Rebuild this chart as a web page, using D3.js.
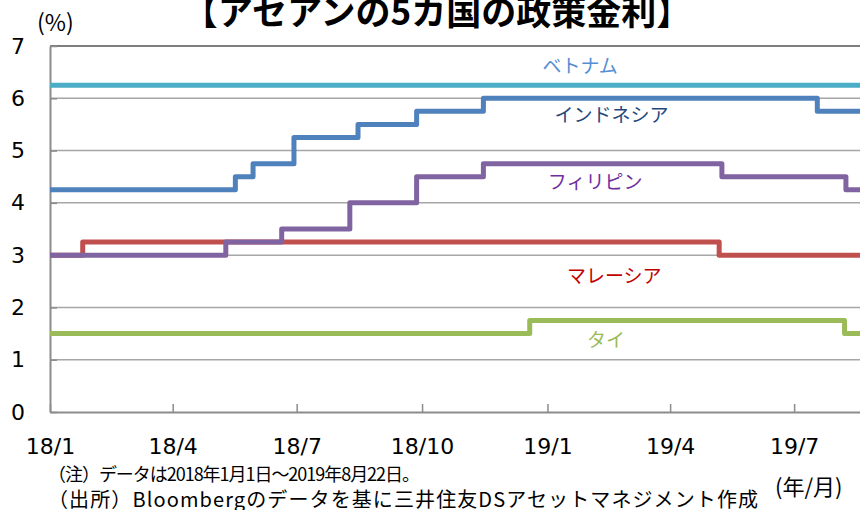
<!DOCTYPE html>
<html>
<head>
<meta charset="utf-8">
<script src="https://cdn.jsdelivr.net/npm/d3@7"></script>
<style>
  body { margin: 0; background: #fff; }
  svg { display: block; }
  text { font-family: "Noto Sans CJK JP", "DejaVu Sans", sans-serif; }
</style>
</head>
<body>
<script>
// change points for each policy rate (date, %), held until the next one
var indonesia = [['2018-01-01', 4.25], ['2018-05-17', 4.5], ['2018-05-30', 4.75], ['2018-06-29', 5.25],
  ['2018-08-15', 5.5], ['2018-09-27', 5.75], ['2018-11-15', 6.0], ['2019-07-18', 5.75]];
var malaysia = [['2018-01-01', 3.0], ['2018-01-25', 3.25], ['2019-05-07', 3.0]];
var philippines = [['2018-01-01', 3.0], ['2018-05-10', 3.25], ['2018-06-20', 3.5], ['2018-08-09', 4.0],
  ['2018-09-27', 4.5], ['2018-11-15', 4.75], ['2019-05-09', 4.5], ['2019-08-08', 4.25]];
var thailand = [['2018-01-01', 1.5], ['2018-12-19', 1.75], ['2019-08-07', 1.5]];
var vietnam = [['2018-01-01', 6.25]];

var seriesNames = ['インドネシア', 'マレーシア', 'フィリピン', 'タイ', 'ベトナム'];
var lineColors = ['#4f81bd', '#c0504d', '#8064a2', '#9bbb59', '#4bacc6'];
var labelColors = ['#1f497d', '#c00000', '#7030a0', '#9bbb59', '#558ed5'];

var startDate = '2018-01-01';
var endDate = '2019-08-22';
var xTicks = ['2018-01-01', '2018-04-01', '2018-07-01', '2018-10-01', '2019-01-01', '2019-04-01', '2019-07-01'];
var xTickLabels = ['18/1', '18/4', '18/7', '18/10', '19/1', '19/4', '19/7'];
var yTicks = [0, 1, 2, 3, 4, 5, 6, 7];

var title = '【アセアンの5カ国の政策金利】';
var noteLines = ['（注）データは2018年1月1日～2019年8月22日。',
  '（出所）Bloombergのデータを基に三井住友DSアセットマネジメント作成'];

var width = 860;
var height = 510;
var plotLeft = 50;
var plotTop = 46;
var plotBottom = 412;

var parseDate = d3.timeParse('%Y-%m-%d');

var svg = d3.select('body').append('svg')
  .attr('width', width)
  .attr('height', height);

var x = d3.scaleTime()
  .domain([parseDate(startDate), parseDate(endDate)])
  .range([plotLeft, 865]);

var y = d3.scaleLinear()
  .domain([0, 7])
  .range([plotBottom, plotTop]);

// gridlines
svg.append('g')
  .selectAll('line')
  .data(yTicks.filter(function(d) { return d > 0; }))
  .enter().append('line')
  .attr('x1', plotLeft)
  .attr('x2', width)
  .attr('y1', function(d) { return y(d); })
  .attr('y2', function(d) { return y(d); })
  .style('stroke', function(d) { return d === 7 ? '#7f7f7f' : '#a6a6a6'; })
  .style('stroke-width', function(d) { return d === 7 ? 2 : 1.5; });

// y axis
var yAxis = svg.append('g')
  .attr('transform', 'translate(' + plotLeft + ',0)')
  .call(d3.axisLeft(y).tickValues(yTicks).tickFormat(d3.format('d'))
    .tickSizeInner(-7).tickSizeOuter(0).tickPadding(25));
yAxis.select('.domain').style('stroke', '#8c8c8c').style('stroke-width', 2);
yAxis.selectAll('.tick line').style('stroke', '#8c8c8c').style('stroke-width', 1.5);
yAxis.selectAll('.tick text')
  .style('font-family', '"DejaVu Sans", sans-serif')
  .style('font-size', '22px')
  .style('fill', '#000');

// x axis
var xAxis = svg.append('g')
  .attr('transform', 'translate(0,' + plotBottom + ')')
  .call(d3.axisBottom(x)
    .tickValues(xTicks.map(parseDate))
    .tickFormat(function(d, i) { return xTickLabels[i]; })
    .tickSizeInner(-8).tickSizeOuter(0).tickPadding(26));
xAxis.select('.domain').style('stroke', '#8c8c8c').style('stroke-width', 2);
xAxis.selectAll('.tick line').style('stroke', '#8c8c8c').style('stroke-width', 1.5);
xAxis.selectAll('.tick text')
  .style('font-family', '"DejaVu Sans", sans-serif')
  .style('font-size', '22px')
  .style('fill', '#000');

// lines
var allSeries = [indonesia, malaysia, philippines, thailand, vietnam];
var line = d3.line()
  .x(function(d) { return x(d.date); })
  .y(function(d) { return y(d.value); })
  .curve(d3.curveStepAfter);

var drawOrder = [4, 0, 1, 2, 3];
drawOrder.forEach(function(i) {
  var points = allSeries[i].map(function(p) { return {date: parseDate(p[0]), value: p[1]}; });
  points.push({date: parseDate(endDate), value: points[points.length - 1].value});
  svg.append('path')
    .datum(points)
    .attr('d', line)
    .style('fill', 'none')
    .style('stroke', lineColors[i])
    .style('stroke-width', 5)
    .style('stroke-linejoin', 'round');
});

// series labels
var labelPos = [
  {date: '2019-02-17', value: 5.55},
  {date: '2019-02-19', value: 2.47},
  {date: '2019-02-05', value: 4.27},
  {date: '2019-02-13', value: 1.25},
  {date: '2019-01-25', value: 6.48}
];
labelPos.forEach(function(p, i) {
  svg.append('text')
    .attr('x', x(parseDate(p.date)))
    .attr('y', y(p.value))
    .attr('text-anchor', 'middle')
    .style('font-size', '19px')
    .style('fill', labelColors[i])
    .text(seriesNames[i]);
});

// title and units
svg.append('text')
  .attr('x', 437)
  .attr('y', 25)
  .attr('text-anchor', 'middle')
  .style('font-size', '35px')
  .style('font-weight', 'bold')
  .text(title);

svg.append('text')
  .attr('x', 37)
  .attr('y', 31)
  .style('font-size', '23px')
  .text('(%)');

svg.append('text')
  .attr('x', 775)
  .attr('y', 495)
  .style('font-size', '22px')
  .text('(年/月)');

svg.selectAll('.note')
  .data(noteLines)
  .enter().append('text')
  .attr('class', 'note')
  .attr('x', 48)
  .attr('y', function(d, i) { return 481 + i * 26; })
  .attr('textLength', function(d, i) { return i === 0 ? 372 : 710; })
  .attr('lengthAdjust', 'spacing')
  .style('font-size', function(d, i) { return i === 0 ? '18px' : '20px'; })
  .text(function(d) { return d; });
</script>
</body>
</html>
